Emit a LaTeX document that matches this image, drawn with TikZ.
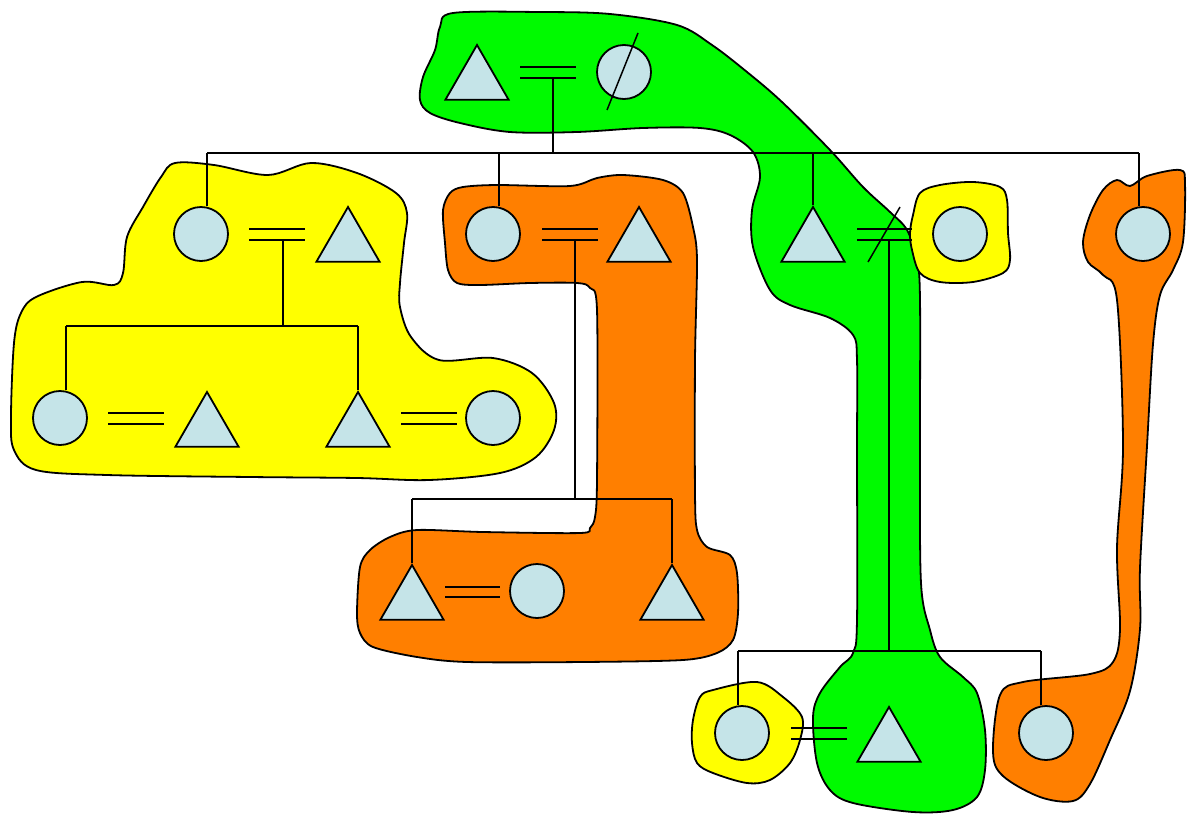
\documentclass[tikz,border=0pt]{standalone}
\usetikzlibrary{shapes.geometric}
\definecolor{cfill}{RGB}{197,228,232}
\definecolor{bgreen}{RGB}{0,250,0}
\definecolor{byellow}{RGB}{255,255,0}
\definecolor{borange}{RGB}{255,127,0}
\tikzset{
  pc/.style={circle, draw, fill=cfill, minimum size=54pt, inner sep=0pt, line width=1.8pt},
  ptri/.style={regular polygon, regular polygon sides=3, draw, fill=cfill, minimum size=73pt, inner sep=0pt, line width=1.8pt},
  blob/.style={draw, line width=1.8pt, line join=round},
  rel/.style={line width=1.5pt},
}
\begin{document}
\begin{tikzpicture}[x=1pt,y=-1pt]
\useasboundingbox (0,0) rectangle (1191,814);

% ---------- blobs ----------
\path[blob, fill=bgreen] plot[smooth cycle, tension=0.55] coordinates {
(453,13) (540,12) (610,14) (677,25) (712,45) (747,72) (782,102) (830,150) (863,187) (890,212) (907,230) (917,260) (920,300) (920,450) (921,583) (930,630) (940,657) (963,677) (977,693) (985,730) (985,770) (977,797) (953,810) (913,812) (853,803) (830,790) (817,763) (813,717) (820,693) (840,667) (853,653) (857,620) (857,450) (857,360) (853,335) (830,318) (790,305) (770,290) (753,247) (752,210) (760,177) (753,152) (730,135) (700,128) (643,128) (577,132) (510,132) (460,123) (430,113) (420,100) (423,77) (435,50) (440,27)};

\path[blob, fill=byellow] plot[smooth cycle, tension=0.55] coordinates {
(913,215) (920,193) (940,185) (973,182) (1000,187) (1007,200) (1008,233) (1010,260) (1003,273) (973,282) (940,282) (920,273) (912,250) (910,233)};

\path[blob, fill=byellow] plot[smooth cycle, tension=0.55] coordinates {
(161,177) (175,163) (214,165) (268,175) (311,163) (357,173) (396,193) (407,213) (404,243) (400,283) (400,307) (411,337) (439,360) (493,358) (532,373) (554,403) (554,430) (536,457) (500,473) (429,480) (357,478) (250,477) (107,475) (36,470) (14,450) (11,417) (14,343) (21,313) (36,297) (82,282) (114,285) (123,273) (127,237) (143,207)};

\path[blob, fill=borange] plot[smooth cycle, tension=0.5] coordinates {
(450,193) (463,187) (497,185) (570,186) (597,178) (623,175) (663,180) (683,193) (693,227) (697,260) (695,360) (695,493) (697,530) (707,547) (730,555) (737,573) (738,613) (733,640) (717,653) (683,660) (583,662) (467,662) (417,657) (373,647) (360,633) (357,613) (360,567) (370,550) (390,537) (417,530) (483,532) (580,533) (590,528) (595,517) (597,480) (597,310) (590,288) (577,283) (530,283) (480,285) (457,283) (448,270) (445,243) (443,210)};

\path[blob, fill=borange] plot[smooth cycle, tension=0.55] coordinates {
(1130,186) (1147,176) (1180,170) (1185,184) (1183,242) (1173,270) (1160,295) (1153,344) (1147,446) (1140,568) (1140,629) (1130,691) (1110,740) (1090,784) (1073,801) (1040,797) (1003,776) (993,752) (1000,695) (1023,682) (1090,674) (1113,662) (1120,629) (1117,548) (1123,446) (1117,300) (1103,275) (1088,262) (1083,242) (1090,215) (1103,190) (1117,180)};

\path[blob, fill=byellow] plot[smooth cycle, tension=0.55] coordinates {
(700,697) (713,690) (757,682) (783,697) (802,717) (800,740) (790,763) (770,780) (747,783) (713,773) (697,763) (692,743) (693,720)};

% ---------- people ----------
\node[ptri] (T0) at (477,81.5) {};
\node[pc]   (C0) at (624,72) {};
\node[pc]   (A)  at (201,234) {};
\node[ptri] (Ah) at (348,243.5) {};
\node[pc]   (E)  at (60,418) {};
\node[ptri] (F)  at (207,428.5) {};
\node[ptri] (G)  at (358,428.5) {};
\node[pc]   (H)  at (493,418) {};
\node[pc]   (B)  at (493,234) {};
\node[ptri] (Bh) at (639,243.5) {};
\node[ptri] (I)  at (412,601.5) {};
\node[pc]   (J)  at (537,591) {};
\node[ptri] (K)  at (672,601.5) {};
\node[ptri] (Cm) at (813,243.5) {};
\node[pc]   (L)  at (960,234) {};
\node[pc]   (D)  at (1143,234) {};
\node[pc]   (M)  at (742,733) {};
\node[ptri] (N)  at (889,743.5) {};
\node[pc]   (O)  at (1046,733) {};

% ---------- marriage lines ----------
\coordinate (m0a) at (520,67);  \coordinate (m0b) at (576,67);
\coordinate (m0c) at (520,78);  \coordinate (m0d) at (576,78);
\draw[rel] (m0a) -- (m0b); \draw[rel] (m0c) -- (m0d);
\coordinate (s0a) at (638,33); \coordinate (s0b) at (607,110);
\draw[rel] (s0a) -- (s0b);

\coordinate (mAa) at (249,229); \coordinate (mAb) at (305,229);
\coordinate (mAc) at (249,240); \coordinate (mAd) at (305,240);
\draw[rel] (mAa) -- (mAb); \draw[rel] (mAc) -- (mAd);

\coordinate (mEa) at (108,413); \coordinate (mEb) at (164,413);
\coordinate (mEc) at (108,424); \coordinate (mEd) at (164,424);
\draw[rel] (mEa) -- (mEb); \draw[rel] (mEc) -- (mEd);

\coordinate (mGa) at (401,413); \coordinate (mGb) at (457,413);
\coordinate (mGc) at (401,424); \coordinate (mGd) at (457,424);
\draw[rel] (mGa) -- (mGb); \draw[rel] (mGc) -- (mGd);

\coordinate (mBa) at (542,229); \coordinate (mBb) at (598,229);
\coordinate (mBc) at (542,240); \coordinate (mBd) at (598,240);
\draw[rel] (mBa) -- (mBb); \draw[rel] (mBc) -- (mBd);

\coordinate (mIa) at (445,587); \coordinate (mIb) at (500,587);
\coordinate (mIc) at (445,597); \coordinate (mId) at (500,597);
\draw[rel] (mIa) -- (mIb); \draw[rel] (mIc) -- (mId);

\coordinate (mCa) at (857,229); \coordinate (mCb) at (912,229);
\coordinate (mCc) at (857,240); \coordinate (mCd) at (912,240);
\draw[rel] (mCa) -- (mCb); \draw[rel] (mCc) -- (mCd);
\coordinate (sCa) at (900,207); \coordinate (sCb) at (868,262);
\draw[rel] (sCa) -- (sCb);

\coordinate (mMa) at (791,728); \coordinate (mMb) at (847,728);
\coordinate (mMc) at (791,739); \coordinate (mMd) at (847,739);
\draw[rel] (mMa) -- (mMb); \draw[rel] (mMc) -- (mMd);

% ---------- descent lines ----------
\coordinate (k0) at (553,78);  \coordinate (b0) at (553,153);
\coordinate (b0L) at (207,153); \coordinate (b0R) at (1139,153);
\coordinate (dB) at (499,153);  \coordinate (dC) at (813,153);
\draw[rel] (k0) -- (b0);
\draw[rel] (b0L) -- (b0R);
\draw[rel] (b0L) -- (b0L |- A.north);
\draw[rel] (dB) -- (dB |- B.north);
\draw[rel] (dC) -- (Cm.corner 1);
\draw[rel] (b0R) -- (b0R |- D.north);

\coordinate (kA) at (283,240); \coordinate (bA) at (283,326);
\coordinate (bAL) at (66,326); \coordinate (bAR) at (358,326);
\draw[rel] (kA) -- (bA);
\draw[rel] (bAL) -- (bAR);
\draw[rel] (bAL) -- (bAL |- E.north);
\draw[rel] (bAR) -- (G.corner 1);

\coordinate (kB) at (575,240); \coordinate (bB) at (575,499);
\coordinate (bBL) at (412,499); \coordinate (bBR) at (672,499);
\draw[rel] (kB) -- (bB);
\draw[rel] (bBL) -- (bBR);
\draw[rel] (bBL) -- (I.corner 1);
\draw[rel] (bBR) -- (K.corner 1);

\coordinate (kC) at (889,240); \coordinate (bC) at (889,651);
\coordinate (bCL) at (738,651); \coordinate (bCR) at (1041,651);
\draw[rel] (kC) -- (bC);
\draw[rel] (bCL) -- (bCR);
\draw[rel] (bCL) -- (bCL |- M.north);
\draw[rel] (bCR) -- (bCR |- O.north);
\end{tikzpicture}
\end{document}
